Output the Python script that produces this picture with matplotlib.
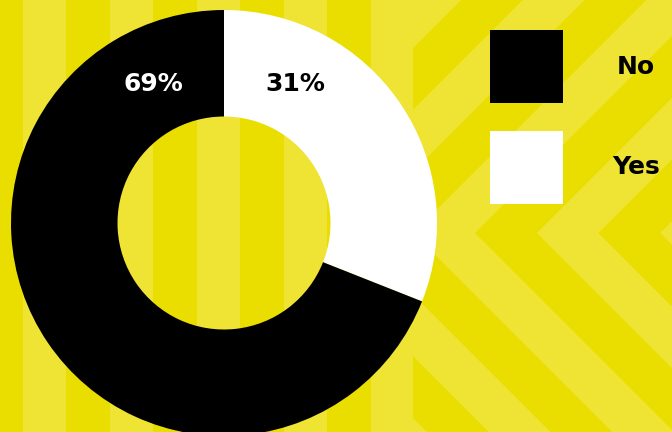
import matplotlib
matplotlib.use("Agg")
import matplotlib.pyplot as plt
from matplotlib.patches import Rectangle, Polygon

# ---- data ----
categories = ["No", "Yes"]
values = [69, 31]
colors = ["#000000", "#FFFFFF"]
label_colors = ["#FFFFFF", "#000000"]

DARK = "#EADE00"
LIGHT = "#EFE334"

W, H = 672, 432
fig = plt.figure(figsize=(W / 100, H / 100), dpi=100)
fig.patch.set_facecolor(LIGHT)

# ---- background: vertical stripes (left) ----
split = 413
bg1 = fig.add_axes([0, 0, split / W, 1])
bg1.set_xlim(0, split)
bg1.set_ylim(H, 0)
bg1.axis("off")
bg1.add_patch(Rectangle((0, 0), split, H, color=LIGHT, lw=0))
x = -21
while x < split:
    bg1.add_patch(Rectangle((x, 0), 43.5, H, color=DARK, lw=0))
    x += 87

# ---- background: chevrons (right) ----
bg2 = fig.add_axes([split / W, 0, 1 - split / W, 1])
bg2.set_xlim(split, W)
bg2.set_ylim(H, 0)
bg2.axis("off")
bg2.add_patch(Rectangle((split, 0), W - split, H, color=LIGHT, lw=0))
y0 = 233
P = 123.5
w = P / 2
h1, h2 = y0, H - y0
for k in range(-6, 4):
    u0 = 475 + k * P
    pts = [(u0 + h1, 0), (u0, y0), (u0 + h2, H),
           (u0 + w + h2, H), (u0 + w, y0), (u0 + w + h1, 0)]
    bg2.add_patch(Polygon(pts, closed=True, color=DARK, lw=0))

# ---- donut ----
cx, cy, r = 224, 223, 213
ax = fig.add_axes([(cx - r) / W, (H - cy - r) / H, 2 * r / W, 2 * r / H])
ax.set_xlim(-1, 1)
ax.set_ylim(-1, 1)
ax.axis("off")
order = [1, 0]  # Yes first, clockwise from top
ax.pie([values[i] for i in order], colors=[colors[i] for i in order],
       startangle=90, counterclock=False, radius=1,
       wedgeprops=dict(width=0.5, linewidth=0, antialiased=True))
ax.set_xlim(-1, 1)
ax.set_ylim(-1, 1)
ax.set_aspect("auto")

label_pos = {"No": (-0.333, 0.652), "Yes": (0.333, 0.652)}
for cat, v, lc in zip(categories, values, label_colors):
    px, py = label_pos[cat]
    ax.text(px, py, f"{v}%", color=lc, fontsize=18, fontweight="bold",
            ha="center", va="center", family="DejaVu Sans")

# ---- legend ----
sq = 73
leg_x = 490
leg_tops = [30, 131]
for cat, col, top in zip(categories, colors, leg_tops):
    fig.patches.append(Rectangle((leg_x / W, (H - top - sq) / H), sq / W, sq / H,
                                 transform=fig.transFigure, color=col, lw=0,
                                 figure=fig))
    fig.text(636 / W, (H - top - sq / 2) / H, cat, fontsize=18,
             fontweight="bold", ha="center", va="center", color="#000000",
             family="DejaVu Sans")

fig.savefig("out.png", dpi=100, facecolor=fig.get_facecolor())
